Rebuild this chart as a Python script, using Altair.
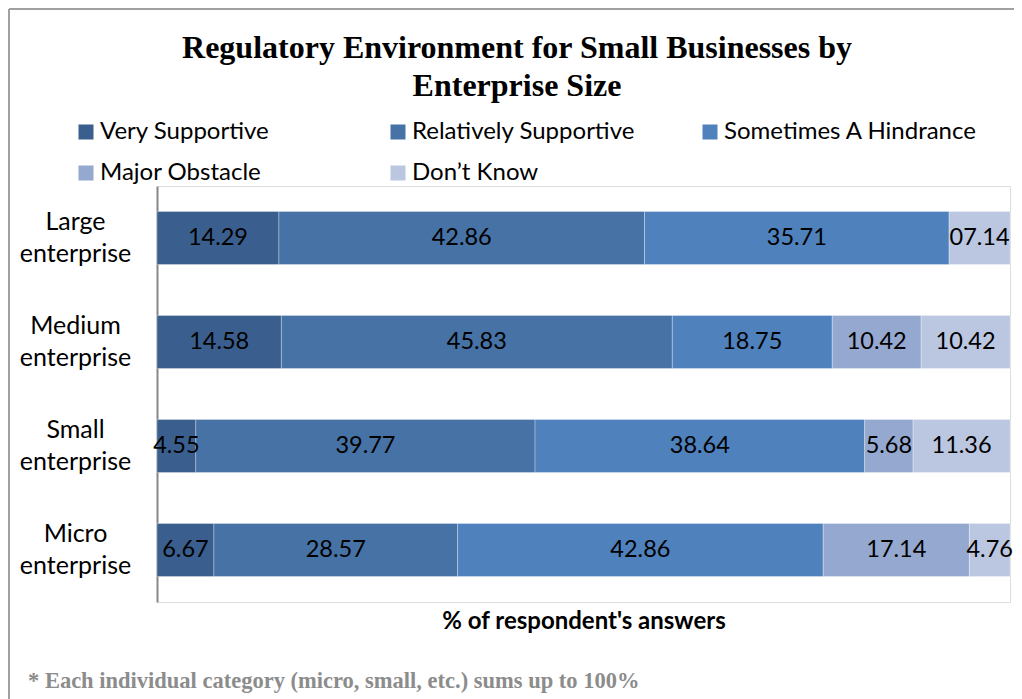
import altair as alt
import pandas as pd

# ---- data ----
sizes = ["Large enterprise", "Medium enterprise", "Small enterprise", "Micro enterprise"]
categories = ["Very Supportive", "Relatively Supportive", "Sometimes A Hindrance",
              "Major Obstacle", "Don\u2019t Know"]
colors = ["#3A5F8E", "#4672A6", "#4F81BD", "#95A9D0", "#BBC7E0"]

large_vals = [14.29, 42.86, 35.71, 0.0, 7.14]
large_labels = ["14.29", "42.86", "35.71", "", "07.14"]
medium_vals = [14.58, 45.83, 18.75, 10.42, 10.42]
medium_labels = ["14.58", "45.83", "18.75", "10.42", "10.42"]
small_vals = [4.55, 39.77, 38.64, 5.68, 11.36]
small_labels = ["4.55", "39.77", "38.64", "5.68", "11.36"]
micro_vals = [6.67, 28.57, 42.86, 17.14, 4.76]
micro_labels = ["6.67", "28.57", "42.86", "17.14", "4.76"]

title_text = "Regulatory Environment for Small Businesses by\nEnterprise Size"
x_title = "% of respondent's answers"
footnote = "* Each individual category (micro, small, etc.) sums up to 100%"

rows = []
for s, vals, labs in zip(sizes,
                         [large_vals, medium_vals, small_vals, micro_vals],
                         [large_labels, medium_labels, small_labels, micro_labels]):
    for i, (c, v, l) in enumerate(zip(categories, vals, labs)):
        if v > 0:
            rows.append({"size": s, "category": c, "value": v, "label": l, "order": i})
df = pd.DataFrame(rows)

W, H = 853, 416
SANS = "Lato"
SERIF = "Liberation Serif"

base = alt.Chart(df).transform_stack(
    stack="value", groupby=["size"], as_=["x0", "x1"],
    sort=[alt.SortField("order", order="ascending")]
).transform_calculate(mid="(datum.x0 + datum.x1) / 2")

y_enc = alt.Y(
    "size:N", sort=sizes, title=None,
    scale=alt.Scale(paddingInner=0.49, paddingOuter=0.245),
    axis=alt.Axis(ticks=False, labelPadding=82, labelAlign="center", labelBaseline="middle",
                  labelOffset=-16,
                  labelFont=SANS, labelFontSize=25, labelColor="black", labelLineHeight=32,
                  labelExpr="split(datum.label, ' ')",
                  domainColor="#888888", domainWidth=2, grid=False),
)

bars = base.mark_bar(stroke="white", strokeWidth=0.6, strokeOpacity=0.5).encode(
    x=alt.X("x0:Q", scale=alt.Scale(domain=[0, 100], nice=False),
            axis=alt.Axis(title=x_title, labels=False, ticks=False, domain=False, grid=False,
                          titleFont=SANS, titleFontSize=24, titleFontWeight="bold",
                          titleColor="black", titlePadding=7)),
    x2="x1:Q",
    y=y_enc,
    color=alt.Color("category:N", scale=alt.Scale(domain=categories, range=colors),
                    legend=alt.Legend(title=None, orient="none", legendX=-83, legendY=-66,
                                      direction="horizontal", columns=3, gridAlign="all",
                                      columnPadding=32, rowPadding=17,
                                      symbolType="square", symbolSize=225, symbolStrokeWidth=0,
                                      symbolOpacity=1, labelOffset=2,
                                      labelFont=SANS, labelFontSize=24, labelColor="black",
                                      labelLimit=400)),
)

labels = base.mark_text(font=SANS, fontSize=23.5, color="black", baseline="middle").encode(
    x="mid:Q",
    y=alt.Y("size:N", sort=sizes),
    text="label:N",
)

title = alt.Chart(pd.DataFrame({"t": [title_text]})).mark_text(
    font=SERIF, fontSize=32, fontWeight="bold", color="black", align="center",
    baseline="alphabetic", lineBreak="\n", lineHeight=38).encode(
    text="t:N", x=alt.value(360), y=alt.value(-128))

note = alt.Chart(pd.DataFrame({"note": [footnote]})).mark_text(
    font=SERIF, fontSize=22.5, fontWeight="bold", color="#8c8c8c", align="left",
    baseline="alphabetic").encode(
    text="note:N", x=alt.value(-129), y=alt.value(502))

frame_df = pd.DataFrame({"k": [0]})
left_line = alt.Chart(frame_df).mark_rule(color="#a0a0a0", strokeWidth=2).encode(
    x=alt.value(-148), y=alt.value(-177), y2=alt.value(520))
top_line = alt.Chart(frame_df).mark_rule(color="#a0a0a0", strokeWidth=2).encode(
    x=alt.value(-148), x2=alt.value(870), y=alt.value(-177))

chart = alt.layer(left_line, top_line, bars, labels, title, note).properties(
    width=W, height=H,
    padding={"left": 149, "top": 178, "right": 4, "bottom": 97},
    autosize=alt.AutoSizeParams(type="none"),
).configure_view(stroke=None).configure(background="white")

chart.save("out.html", embed_options={"renderer": "svg", "actions": False})
